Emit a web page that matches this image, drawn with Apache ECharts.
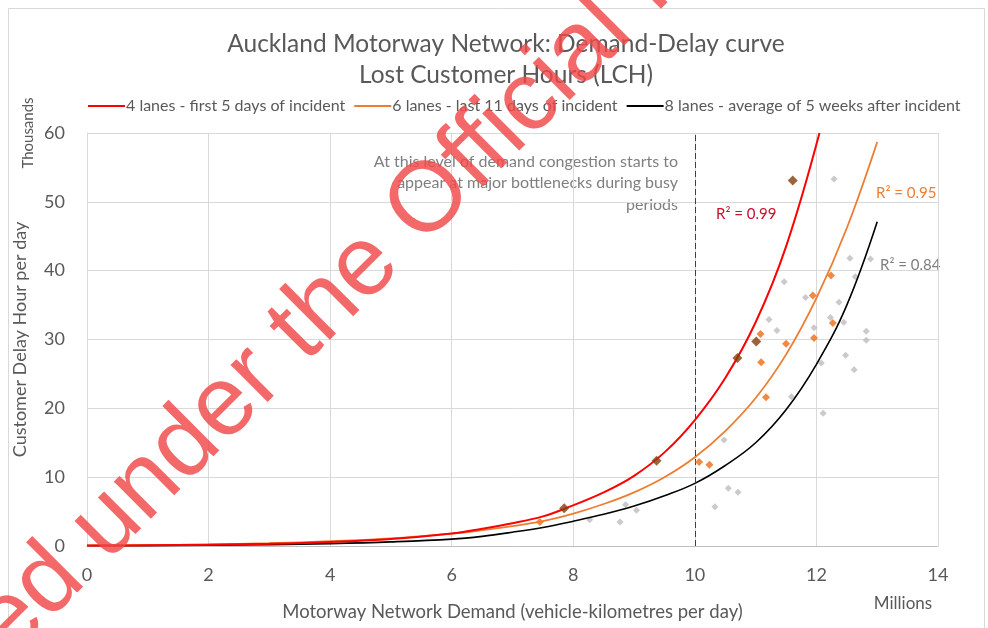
<!DOCTYPE html>
<html>
<head>
<meta charset="utf-8">
<script src="https://cdn.jsdelivr.net/npm/echarts@6/dist/echarts.min.js"></script>
<style>
  html, body { margin: 0; padding: 0; background: #fff; }
  #demandChart { width: 988px; height: 628px; }
</style>
</head>
<body>
<div id="demandChart"></div>
<script>
  // series names
  var seriesNames = ['4 lanes - first 5 days of incident', '6 lanes - last 11 days of incident', '8 lanes - average of 5 weeks after incident'];

  // trendlines: [demand (millions), delay (thousands)]
  var curve4 = [[0, 0.06], [1, 0.1], [2, 0.18], [3, 0.32], [4, 0.58], [5, 1.0], [6, 1.8], [6.5, 2.5], [7, 3.3], [7.5, 4.3], [7.85, 5.4], [8.5, 7.8], [9, 10.2], [9.5, 13.6], [10, 18.3], [10.5, 24.4], [11, 32.5], [11.5, 43.5], [12.05, 60]];
  var curve6 = [[0, 0.08], [1, 0.13], [2, 0.23], [3, 0.4], [4, 0.7], [5, 1.1], [6, 1.8], [6.5, 2.3], [7, 2.9], [7.5, 3.6], [8, 4.7], [8.5, 6.1], [9, 7.8], [9.5, 10.0], [10, 12.9], [10.5, 16.7], [11, 21.5], [11.5, 27.8], [12, 36.0], [12.5, 46.2], [13, 58.7]];
  var curve8 = [[0, 0.03], [1, 0.06], [2, 0.12], [3, 0.2], [4, 0.35], [5, 0.6], [6, 1.0], [6.5, 1.4], [7, 2.0], [7.5, 2.7], [8, 3.6], [8.5, 4.6], [9, 5.8], [9.5, 7.3], [10, 9.1], [10.5, 11.7], [11, 15.0], [11.5, 19.8], [12, 26.4], [12.5, 35.0], [13, 47.1]];

  // observed days
  var points4 = [[7.85, 5.5], [9.37, 12.4], [10.70, 27.3], [11.01, 29.7], [11.61, 53.1]];
  var points6 = [[7.45, 3.5], [10.07, 12.2], [10.24, 11.8], [11.09, 26.7], [11.17, 21.6], [11.08, 30.8], [11.50, 29.4], [11.94, 36.4], [11.96, 30.2], [12.24, 39.3], [12.27, 32.4]];
  var points8 = [[8.27, 3.8], [8.77, 3.5], [8.86, 6.0], [9.04, 5.2], [10.33, 5.7], [10.48, 15.4], [10.55, 8.4], [10.71, 7.8], [11.22, 32.9], [11.35, 31.3], [11.47, 38.4], [11.59, 21.7], [11.82, 36.1], [11.96, 31.7], [12.08, 26.6], [12.11, 19.3], [12.23, 33.2], [12.29, 53.3], [12.37, 35.4], [12.45, 32.5], [12.48, 27.7], [12.55, 41.8], [12.62, 25.6], [12.64, 39.1], [12.82, 31.2], [12.82, 29.9], [12.89, 41.7]];

  var congestionLevel = 10;
  var xTicks = {min: 0, max: 14, interval: 2};
  var yTicks = {min: 0, max: 60, interval: 10};

  var font = 'Lato, "Open Sans", sans-serif';
  var grey = '#595959';
  var stamp = 'rgba(240, 72, 72, 0.82)';

  var demandChart = echarts.init(document.getElementById('demandChart'));

  demandChart.setOption({
    backgroundColor: '#fff',
    animation: false,
    textStyle: {fontFamily: font},
    title: {
      text: 'Auckland Motorway Network: Demand-Delay curve\nLost Customer Hours (LCH)',
      left: 501,
      textAlign: 'center',
      top: 24,
      textStyle: {fontSize: 24.5, fontWeight: 'normal', color: grey, lineHeight: 31, fontFamily: font}
    },
    legend: {
      data: seriesNames,
      top: 93,
      left: 83,
      itemWidth: 37,
      itemHeight: 2,
      itemGap: 9,
      icon: 'rect',
      textStyle: {fontSize: 16, color: grey, fontFamily: font, padding: [0, 0, 0, -4]}
    },
    grid: {left: 87, right: 50, top: 133, bottom: 82},
    xAxis: {
      type: 'value',
      min: xTicks.min,
      max: xTicks.max,
      interval: xTicks.interval,
      name: 'Motorway Network Demand (vehicle-kilometres per day)',
      nameLocation: 'middle',
      nameGap: 57,
      nameTextStyle: {fontSize: 18.5, color: grey},
      axisLine: {show: true, lineStyle: {color: '#bfbfbf'}},
      axisTick: {show: false},
      axisLabel: {fontSize: 18, color: grey, margin: 20},
      splitLine: {show: true, lineStyle: {color: '#d9d9d9'}}
    },
    yAxis: {
      type: 'value',
      min: yTicks.min,
      max: yTicks.max,
      interval: yTicks.interval,
      name: 'Customer Delay Hour per day',
      nameLocation: 'middle',
      nameGap: 58,
      nameTextStyle: {fontSize: 18, color: grey},
      axisLine: {show: true, lineStyle: {color: '#d9d9d9'}},
      axisTick: {show: false},
      axisLabel: {fontSize: 18, color: grey, margin: 22},
      splitLine: {show: true, lineStyle: {color: '#d9d9d9'}}
    },
    series: [
      {
        name: seriesNames[2],
        type: 'line',
        data: curve8,
        smooth: 0.4,
        showSymbol: false,
        color: '#000',
        lineStyle: {width: 1.6, color: '#000'},
        z: 3,
        markLine: {
          silent: true,
          symbol: 'none',
          label: {show: false},
          lineStyle: {type: [6, 3], color: '#404040', width: 1},
          data: [[{coord: [congestionLevel, yTicks.min]}, {coord: [congestionLevel, yTicks.max]}]]
        }
      },
      {
        name: seriesNames[1],
        type: 'line',
        data: curve6,
        smooth: 0.4,
        showSymbol: false,
        color: '#ed7d31',
        lineStyle: {width: 1.8, color: '#ed7d31'},
        z: 4
      },
      {
        name: seriesNames[0],
        type: 'line',
        data: curve4,
        smooth: 0.4,
        showSymbol: false,
        color: '#ff0000',
        lineStyle: {width: 2, color: '#ff0000'},
        z: 5
      },
      {
        name: 'pts8',
        type: 'scatter',
        data: points8,
        symbol: 'diamond',
        symbolSize: 7,
        itemStyle: {color: '#b4b4b8', opacity: 0.7},
        z: 2
      },
      {
        name: 'pts6',
        type: 'scatter',
        data: points6,
        symbol: 'diamond',
        symbolSize: 8,
        itemStyle: {color: '#ed7d31', opacity: 0.9},
        z: 6
      },
      {
        name: 'pts4',
        type: 'scatter',
        data: points4,
        symbol: 'diamond',
        symbolSize: 10,
        itemStyle: {color: '#843c0c'},
        z: 7
      }
    ],
    graphic: [
      {
        type: 'rect',
        shape: {x: 8.5, y: 8.5, width: 976, height: 640},
        style: {fill: 'none', stroke: '#d9d9d9', lineWidth: 1},
        silent: true
      },
      {
        type: 'text', x: 28, y: 133, rotation: Math.PI / 2,
        style: {text: 'Thousands', fontSize: 15, fill: grey, fontFamily: font, align: 'center', verticalAlign: 'middle'}
      },
      {
        type: 'text', x: 903, y: 604,
        style: {text: 'Millions', fontSize: 17, fill: grey, fontFamily: font, align: 'center', verticalAlign: 'middle'}
      },
      {
        type: 'text', x: 678, y: 151,
        style: {
          text: 'At this level of demand congestion starts to\nappear at major bottlenecks during busy\nperiods',
          fontSize: 16, lineHeight: 21.5, fill: '#7f7f7f', fontFamily: font, align: 'right', verticalAlign: 'top'
        }
      },
      {
        type: 'text', x: 716, y: 214,
        style: {text: 'R² = 0.99', fontSize: 15, fill: '#c8102e', fontFamily: font, verticalAlign: 'middle'}
      },
      {
        type: 'text', x: 876, y: 193,
        style: {text: 'R² = 0.95', fontSize: 15, fill: '#ed7d31', fontFamily: font, verticalAlign: 'middle'}
      },
      {
        type: 'text', x: 880, y: 265,
        style: {text: 'R² = 0.84', fontSize: 15, fill: '#7f7f7f', fontFamily: font, verticalAlign: 'middle'}
      },
      {
        type: 'text', x: 403, y: 228, rotation: 45 * Math.PI / 180, z: 100,
        style: {text: 'Official Information Act 1982', fontSize: 99, fill: stamp, fontFamily: 'Liberation Sans, Arial, sans-serif', align: 'left', verticalAlign: 'middle'}
      },
      {
        type: 'text', x: 403, y: 228, rotation: 45 * Math.PI / 180, z: 100,
        style: {text: 'Released under the ', fontSize: 99, fill: stamp, fontFamily: 'Liberation Sans, Arial, sans-serif', align: 'right', verticalAlign: 'middle'}
      }
    ]
  });
</script>
</body>
</html>
